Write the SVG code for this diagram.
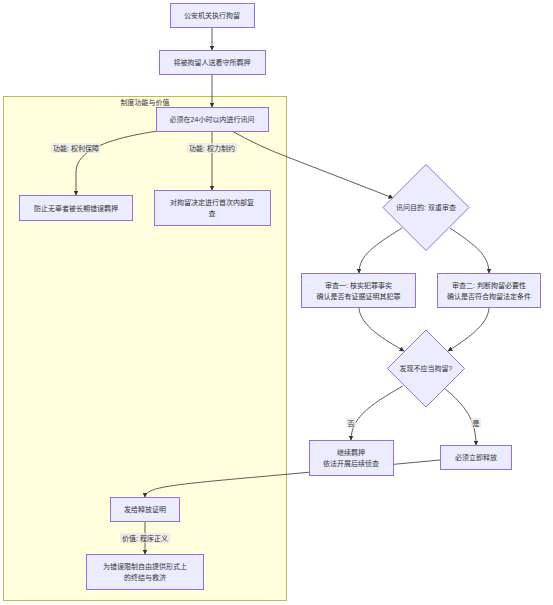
<svg xmlns="http://www.w3.org/2000/svg" width="553" height="605" viewBox="0 0 553 605">
<defs>
<style>
.node rect,.node polygon{fill:#ECECFF;stroke:#9370DB;stroke-width:1}
text{font-family:"Liberation Sans","Noto Sans CJK SC",sans-serif;font-size:7px;fill:#333;text-anchor:middle;dominant-baseline:central}
.edge{fill:none;stroke:#333;stroke-width:0.8}
.lbl{fill:#e8e8e8;opacity:0.8}
</style>
<marker id="arr" viewBox="0 0 10 10" refX="9" refY="5" markerWidth="5" markerHeight="5" orient="auto" markerUnits="userSpaceOnUse">
<path d="M0,0 L10,5 L0,10 z" fill="#333"/>
</marker>
</defs>
<rect width="553" height="605" fill="#fff"/>
<g id="cluster">
<rect x="3.5" y="96.5" width="283" height="504" fill="#ffffde" stroke="#aaaa33" stroke-width="0.8"/>
<text x="145" y="102">制度功能与价值</text>
</g>
<g id="connectors">
<path class="edge" d="M212,27 L212,50" marker-end="url(#arr)"/>
<path class="edge" d="M212,74 L212,107" marker-end="url(#arr)"/>
<path class="edge" d="M158,131 C110,138 76,150 76,172 L76,195" marker-end="url(#arr)"/>
<path class="edge" d="M212,131 L212,190" marker-end="url(#arr)"/>
<path class="edge" d="M232,131 Q258,146 290,158 L393,198" marker-end="url(#arr)"/>
<path class="edge" d="M402,228 C375,245 359,255 359,273" marker-end="url(#arr)"/>
<path class="edge" d="M450,228 C475,245 489,255 489,273" marker-end="url(#arr)"/>
<path class="edge" d="M359,307 C359,325 385,340 404,351" marker-end="url(#arr)"/>
<path class="edge" d="M489,307 C489,325 465,340 448,351" marker-end="url(#arr)"/>
<path class="edge" d="M403,386 C375,402 351,416 351,440" marker-end="url(#arr)"/>
<path class="edge" d="M444,388 C465,405 476,420 476,445" marker-end="url(#arr)"/>
<path class="edge" d="M440,460 L290,474 C180,484 145,486 145,497" marker-end="url(#arr)"/>
<path class="edge" d="M145,521 L145,554" marker-end="url(#arr)"/>
<rect class="lbl" x="51" y="143" width="49" height="10"/>
<text x="76" y="148">功能: 权利保障</text>
<rect class="lbl" x="187" y="143" width="50" height="10"/>
<text x="212" y="148">功能: 权力制约</text>
<rect class="lbl" x="346" y="418" width="10" height="10"/>
<text x="351" y="423">否</text>
<rect class="lbl" x="471" y="418" width="10" height="10"/>
<text x="476" y="423">是</text>
<rect class="lbl" x="120" y="533" width="50" height="10"/>
<text x="145" y="538">价值: 程序正义</text>
</g>
<g id="n1" class="node"><rect x="170.5" y="3.5" width="84" height="24"/><text x="212" y="15.5">公安机关执行拘留</text></g>
<g id="n2" class="node"><rect x="159.5" y="50.5" width="106" height="24"/><text x="212" y="62.5">将被拘留人送看守所羁押</text></g>
<g id="n3" class="node"><rect x="156.5" y="107.5" width="112" height="24"/><text x="212" y="119.5">必须在24小时以内进行讯问</text></g>
<g id="n4" class="node"><rect x="19.5" y="195.5" width="113" height="25"/><text x="76" y="208">防止无辜者被长期错误羁押</text></g>
<g id="n5" class="node"><rect x="154.5" y="190.5" width="116" height="35"/><text x="212" y="202">对拘留决定进行首次内部复</text><text x="212" y="213">查</text></g>
<g id="d1" class="node"><polygon points="426,164.5 469,207.5 426,250.5 383,207.5"/><text x="426" y="207.5">讯问目的: 双重审查</text></g>
<g id="n6" class="node"><rect x="301.5" y="273.5" width="114" height="34"/><text x="358.5" y="285">审查一: 核实犯罪事实</text><text x="358.5" y="296">确认是否有证据证明其犯罪</text></g>
<g id="n7" class="node"><rect x="437.5" y="273.5" width="103" height="34"/><text x="489" y="285">审查二: 判断拘留必要性</text><text x="489" y="296">确认是否符合拘留法定条件</text></g>
<g id="d2" class="node"><polygon points="426,330 464.5,368.5 426,407 387.5,368.5"/><text x="426" y="368.5">发现不应当拘留?</text></g>
<g id="n8" class="node"><rect x="309.5" y="440.5" width="84" height="35"/><text x="351" y="452">继续羁押</text><text x="351" y="463">依法开展后续侦查</text></g>
<g id="n9" class="node"><rect x="440.5" y="445.5" width="71" height="24"/><text x="476" y="457.5">必须立即释放</text></g>
<g id="n10" class="node"><rect x="110.5" y="497.5" width="69" height="24"/><text x="145" y="509.5">发给释放证明</text></g>
<g id="n11" class="node"><rect x="86.5" y="554.5" width="117" height="35"/><text x="145" y="566">为错误限制自由提供形式上</text><text x="145" y="577">的终结与救济</text></g>
</svg>
